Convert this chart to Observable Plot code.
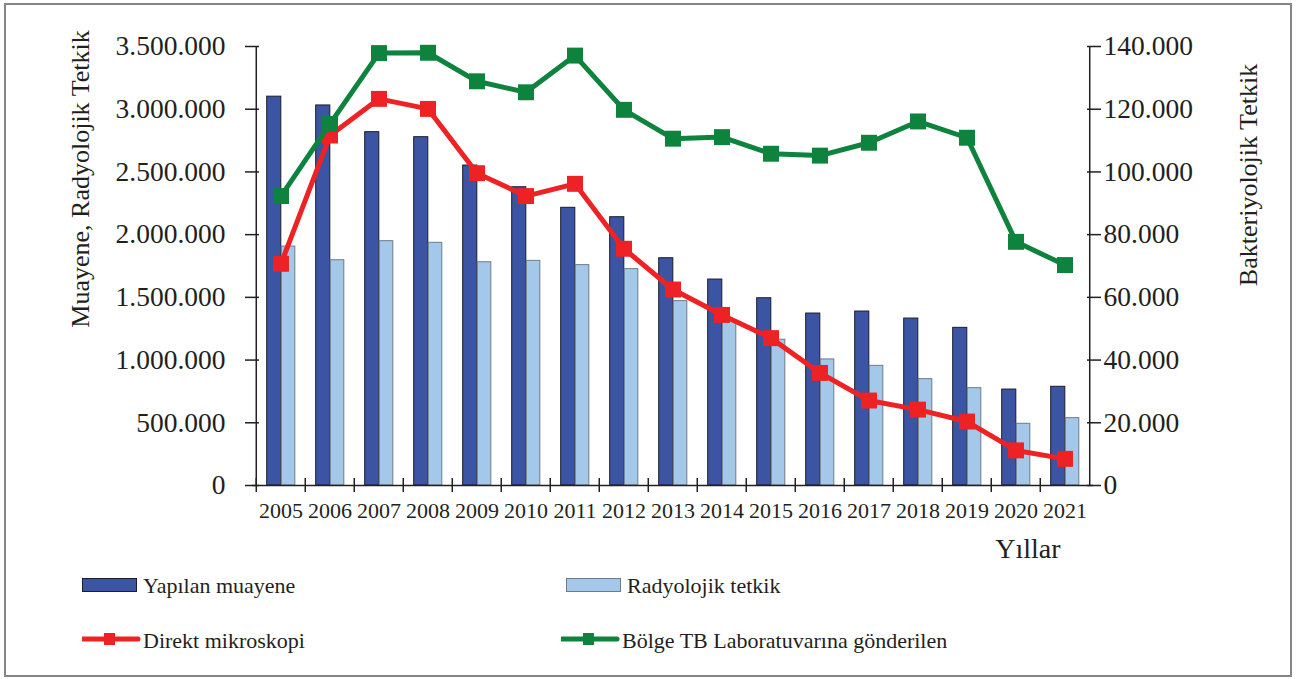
<!DOCTYPE html>
<html>
<head>
<meta charset="utf-8">
<script src="https://cdn.jsdelivr.net/npm/d3@7"></script>
<script src="https://cdn.jsdelivr.net/npm/@observablehq/plot@0.6"></script>
<style>
  body { margin: 0; background: #fff; font-family: "Liberation Serif", "Times New Roman", serif; color: #231f20; }
  #wrap { position: relative; width: 1299px; height: 679px; overflow: hidden; }
  #border { position: absolute; left: 4px; top: 3px; width: 1284px; height: 670px; border: 2px solid #858585; }
  #chart { position: absolute; left: 0; top: 0; }
  .leg { position: absolute; font-size: 22px; line-height: 22px; white-space: nowrap; }
  .leg svg { position: absolute; left: 0; top: 0; }
  .leg span { position: absolute; left: 61px; top: 0; }
</style>
</head>
<body>
<div id="wrap">
  <div id="border"></div>
  <div id="chart"></div>
  <div id="legend"></div>
</div>
<script>
// ---- data ----
const years = ["2005","2006","2007","2008","2009","2010","2011","2012","2013","2014","2015","2016","2017","2018","2019","2020","2021"];
const muayene = [3100000,3030000,2817000,2777000,2551000,2378000,2214000,2139000,1812000,1642000,1493000,1371000,1387000,1331000,1257000,765000,787000];
const radyolojik = [1905000,1796000,1948000,1935000,1780000,1791000,1757000,1725000,1470000,1310000,1162000,1005000,954000,848000,776000,492000,537000];
const direkt = [70700,111600,123300,120100,99600,92300,96200,75500,62500,54400,47000,35900,27100,24200,20400,11200,8500];
const bolge = [92300,115300,137900,138000,128900,125400,137100,119800,110600,111100,105800,105200,109300,116100,110900,77700,70300];
const leftTicks = [0,500000,1000000,1500000,2000000,2500000,3000000,3500000];
const rightTicks = [0,20000,40000,60000,80000,100000,120000,140000];
const seriesNames = ["Yapılan muayene","Radyolojik tetkik","Direkt mikroskopi","Bölge TB Laboratuvarına gönderilen"];
const colors = {dark:"#3b54a4", light:"#a3c8ea", red:"#ee2224", green:"#0e833e"};

const rows = years.map((y,i) => ({year:y, muayene:muayene[i], radyolojik:radyolojik[i], direkt:direkt[i], bolge:bolge[i]}));

const W = 1299, H = 560, mL = 252, mR = 206, mT = 46, mB = 75;
const step = (W - mL - mR) / years.length;
const ratio = leftTicks[leftTicks.length-1] / rightTicks[rightTicks.length-1];
const fmt = d => d3.format(",")(d).replace(/,/g, ".");
const ink = "#231f20";
const font = "'Liberation Serif', 'Times New Roman', serif";

const plot = Plot.plot({
  width: W, height: H,
  marginLeft: mL, marginRight: mR, marginTop: mT, marginBottom: mB,
  style: {fontFamily: font, color: ink, background: "transparent", overflow: "visible"},
  x: {type: "band", domain: years, padding: 0, axis: null, label: null},
  y: {domain: [0, 3500000], axis: null, label: null},
  marks: [
    Plot.barY(rows, {x: "year", y: "muayene", fill: colors.dark, stroke: "#1c1c2a", strokeWidth: 1,
      insetLeft: step * 0.216, insetRight: step * 0.489}),
    Plot.barY(rows, {x: "year", y: "radyolojik", fill: colors.light, stroke: "#6f7b86", strokeWidth: 1,
      insetLeft: step * 0.511, insetRight: step * 0.206}),
    // axis lines
    Plot.ruleY([0], {stroke: ink, strokeWidth: 1.5}),
    Plot.ruleX([years[0]], {stroke: ink, strokeWidth: 1.5, dx: -step / 2}),
    Plot.ruleX([years[years.length-1]], {stroke: ink, strokeWidth: 1.5, dx: step / 2}),
    // left axis
    Plot.axisY({ticks: leftTicks, tickSize: 14, dx: 7, tickFormat: () => "", label: null, stroke: ink, strokeWidth: 1.5}),
    Plot.axisY({ticks: leftTicks, tickSize: 0, tickPadding: 27, tickFormat: fmt, label: null, fontSize: 27.5, fill: ink}),
    // right axis
    Plot.axisY({anchor: "right", ticks: rightTicks.map(d => d * ratio), tickSize: 14, dx: -7, tickFormat: () => "", label: null, stroke: ink, strokeWidth: 1.5}),
    Plot.axisY({anchor: "right", ticks: rightTicks.map(d => d * ratio), tickSize: 0, tickPadding: 10, tickFormat: d => fmt(d / ratio), label: null, fontSize: 27.5, fill: ink}),
    // x axis: boundary ticks + centered labels
    Plot.axisX({ticks: years, tickSize: 14, dx: -step / 2, dy: -7, tickFormat: () => "", label: null, stroke: ink, strokeWidth: 1.5}),
    Plot.axisX({ticks: years, tickSize: 0, tickPadding: 17, label: null, fontSize: 22, fill: ink}),
    // lines
    Plot.line(rows, {x: "year", y: d => d.direkt * ratio, stroke: colors.red, strokeWidth: 5}),
    Plot.dot(rows, {x: "year", y: d => d.direkt * ratio, symbol: "square", r: 9, fill: colors.red, stroke: "none"}),
    Plot.line(rows, {x: "year", y: d => d.bolge * ratio, stroke: colors.green, strokeWidth: 5}),
    Plot.dot(rows, {x: "year", y: d => d.bolge * ratio, symbol: "square", r: 9, fill: colors.green, stroke: "none"}),
    // titles
    Plot.text(["Muayene, Radyolojik Tetkik"], {frameAnchor: "left", textAnchor: "middle", lineAnchor: "middle", rotate: -90, dx: -172, dy: -87, fontSize: 26, fill: ink}),
    Plot.text(["Bakteriyolojik Tetkik"], {frameAnchor: "right", textAnchor: "middle", lineAnchor: "middle", rotate: -90, dx: 155, dy: -91, fontSize: 26, fill: ink}),
    Plot.text(["Yıllar"], {frameAnchor: "bottom-right", textAnchor: "end", dx: -33, dy: 72, fontSize: 28, fill: ink})
  ]
});
document.getElementById("chart").appendChild(plot);

// ---- legend (HTML below the plot) ----
const legend = d3.select("#legend");
const items = [
  {name: seriesNames[0], type: "bar", fill: colors.dark, stroke: "#1c1c2a", left: 82, top: 575},
  {name: seriesNames[1], type: "bar", fill: colors.light, stroke: "#6f7b86", left: 566, top: 575},
  {name: seriesNames[2], type: "line", fill: colors.red, left: 82, top: 630},
  {name: seriesNames[3], type: "line", fill: colors.green, left: 561, top: 630}
];
for (const it of items) {
  const g = legend.append("div").attr("class", "leg").style("left", it.left + "px").style("top", it.top + "px");
  const s = g.append("svg").attr("width", 60).attr("height", 22);
  if (it.type === "bar") {
    s.append("rect").attr("x", 0.5).attr("y", 3.5).attr("width", 54).attr("height", 13).attr("fill", it.fill).attr("stroke", it.stroke);
  } else {
    s.append("line").attr("x1", 0).attr("x2", 56).attr("y1", 9).attr("y2", 9).attr("stroke", it.fill).attr("stroke-width", 5).attr("stroke-linecap", "round");
    s.append("rect").attr("x", 22).attr("y", 3).attr("width", 11).attr("height", 12).attr("fill", it.fill);
  }
  g.append("span").text(it.name);
}
</script>
</body>
</html>
